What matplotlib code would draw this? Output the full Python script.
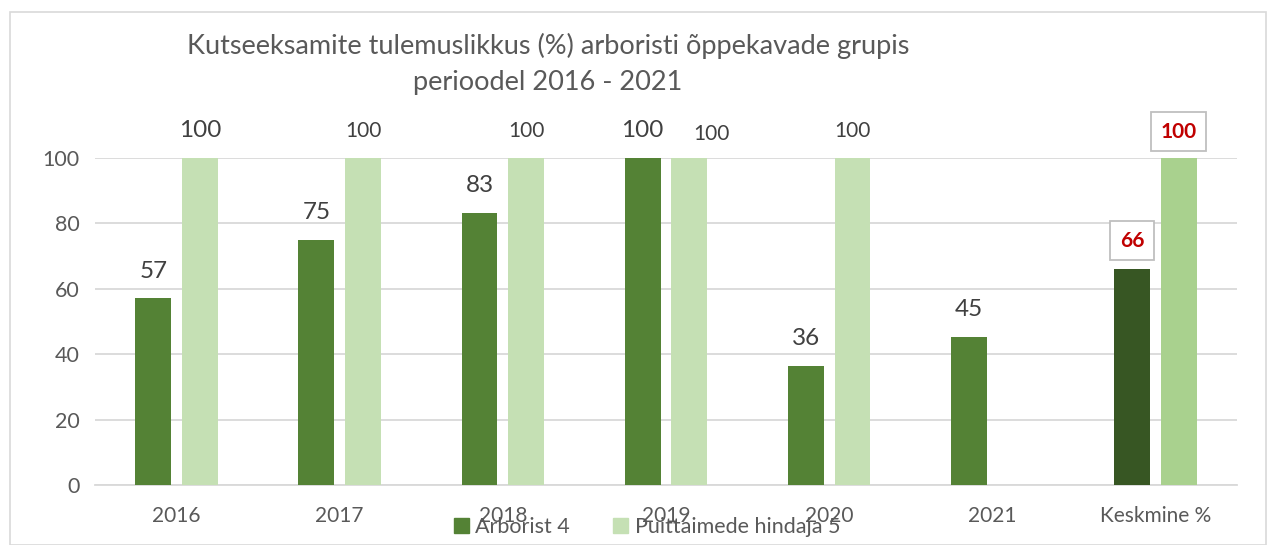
import matplotlib
matplotlib.use("Agg")
import matplotlib.pyplot as plt
import numpy as np
from matplotlib.patches import Rectangle, Patch

categories = ['2016', '2017', '2018', '2019', '2020', '2021', 'Keskmine %']
arborist = [57.1, 75.0, 83.3, 100.0, 36.4, 45.4, 66.2]
puittaimed = [100, 100, 100, 100, 100, np.nan, 100]
series_names = ['Arborist 4', 'Puittaimede hindaja 5']
title = 'Kutseeksamite tulemuslikkus (%) arboristi õppekavade grupis\nperioodel 2016 - 2021'
yticks = [0, 20, 40, 60, 80, 100]

plt.rcParams['font.family'] = ['Lato', 'DejaVu Sans']
TXT = '#595959'
W, H = 1270, 545
fig = plt.figure(figsize=(W / 100, H / 100), dpi=100)
fig.patch.set_facecolor('white')
fig.patches.append(Rectangle((10 / W, 0), (1266 - 10) / W, 1 - 12 / H, transform=fig.transFigure,
                             fill=False, edgecolor='#D9D9D9', lw=1.2))

ax = fig.add_axes([95 / W, 1 - 485 / H, (1237 - 95) / W, (485 - 158) / H])
x = np.arange(len(categories))
bw = 0.22
off = 0.143
c_dark = ['#548235'] * 6 + ['#375623']
c_light = ['#C5E0B4'] * 6 + ['#A9D18E']
ax.bar(x - off, arborist, bw, color=c_dark, zorder=3)
ax.bar(x + off, puittaimed, bw, color=c_light, zorder=3)

ax.set_xlim(-0.5, len(categories) - 0.5)
ax.set_ylim(0, 100)
ax.set_yticks(yticks)
ax.yaxis.grid(True, color='#D9D9D9', lw=1.3, zorder=0)
ax.set_axisbelow(True)
for s in ['top', 'right', 'left']:
    ax.spines[s].set_visible(False)
ax.spines['bottom'].set_color('#D9D9D9')
ax.spines['bottom'].set_linewidth(1.3)
ax.set_xticks(x)
ax.set_xticklabels(categories)
ax.tick_params(axis='x', length=0, pad=15, labelsize=15, labelcolor=TXT)
ax.tick_params(axis='y', length=0, pad=11, labelsize=15.5, labelcolor=TXT)

n = len(categories)
box = dict(boxstyle='square,pad=0.45', fc='white', ec='#BFBFBF', lw=1.3)
for i in range(n):
    v = arborist[i]
    if i < n - 1:
        ax.annotate(f'{v:.0f}', (x[i] - off, v), xytext=(0, 19.5), textcoords='offset points',
                    ha='center', va='center', fontsize=17.5, color='#404040', annotation_clip=False)
    else:
        ax.annotate(f'{v:.0f}', (x[i] - off, v), xytext=(0, 20), textcoords='offset points',
                    ha='center', va='center', fontsize=15, color='#C00000', fontweight='bold',
                    annotation_clip=False, bbox=box)
for i in range(n):
    v = puittaimed[i]
    if np.isnan(v):
        continue
    if i == n - 1:
        ax.annotate(f'{v:.0f}', (x[i] + off, v), xytext=(0, 19), textcoords='offset points',
                    ha='center', va='center', fontsize=15, color='#C00000', fontweight='bold',
                    annotation_clip=False, bbox=box)
        continue
    fs = 17.5 if i == 0 else 15
    dx = 16 if i == 3 else 0
    dy = 19.5 if i != 3 else 17.5
    ax.annotate(f'{v:.0f}', (x[i] + off, v), xytext=(dx, dy), textcoords='offset points',
                ha='center', va='center', fontsize=fs, color='#404040', annotation_clip=False)

fig.text(548 / W, 1 - 64 / H, title, ha='center', va='center', fontsize=19.5, color=TXT,
         linespacing=1.55)

handles = [Patch(color='#548235'), Patch(color='#C5E0B4')]
fig.legend(handles, series_names, loc='center', bbox_to_anchor=(647 / W, 1 - 527 / H),
           ncol=2, frameon=False, fontsize=15.5, labelcolor=TXT, handlelength=0.7,
           handleheight=0.7, handletextpad=0.3, columnspacing=2.0, borderpad=0)

fig.savefig('out.png', dpi=100, facecolor='white')
